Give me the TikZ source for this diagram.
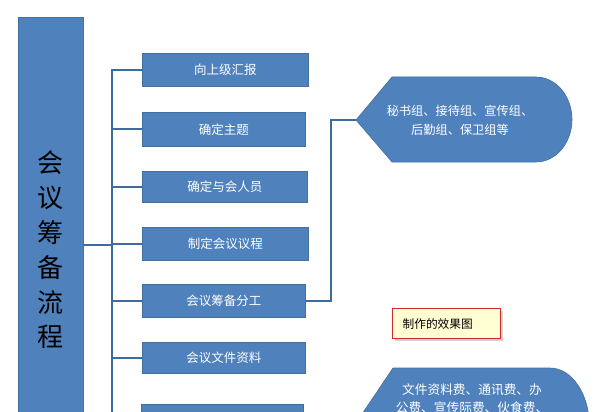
\documentclass[tikz,border=0pt]{standalone}
\usepackage{fontspec}
\setmainfont{Noto Sans CJK SC}
\usetikzlibrary{shadows}
\definecolor{boxblue}{HTML}{4F81BD}
\definecolor{boxline}{HTML}{41719C}
\definecolor{connblue}{HTML}{3F6A9E}
\definecolor{notered}{HTML}{D02A2A}
\definecolor{noteyellow}{HTML}{FFFDD2}
\begin{document}
\begin{tikzpicture}[x=1pt,y=-1pt,
  stepbox/.style={draw=boxline, line width=0.6pt, fill=boxblue, text=white,
    font=\fontsize{12.5}{15}\selectfont, anchor=north west, inner sep=0pt,
    minimum height=33pt},
  conn/.style={draw=connblue, line width=1.8pt},
  dispshape/.style={fill=boxblue, draw=boxline, line width=0.6pt},
  disptext/.style={text=white, align=center}]
\useasboundingbox (0,0) rectangle (603,412);
\clip (0,0) rectangle (603,412);
\fill[white] (0,0) rectangle (603,412);

% left bar
\node[fill=boxblue, draw=boxline, line width=0.6pt, anchor=north west, inner sep=0pt,
  minimum width=65pt, minimum height=420pt] (bar) at (18,17) {};
\node[align=center, font=\fontsize{26}{34.8}\selectfont, text=black] (bartext) at (50,250)
  {会\\议\\筹\\备\\流\\程};

% step boxes
\node[stepbox, minimum width=166pt] (b1) at (142,53) {向上级汇报};
\node[stepbox, minimum width=163pt, minimum height=34pt] (b2) at (142,112) {确定主题};
\node[stepbox, minimum width=165pt, minimum height=31pt] (b3) at (142,171) {确定与会人员};
\node[stepbox, minimum width=166pt] (b4) at (142,227) {制定会议议程};
\node[stepbox, minimum width=163pt] (b5) at (142,284) {会议筹备分工};
\node[stepbox, minimum width=163pt, minimum height=31pt] (b6) at (142,342) {会议文件资料};
\node[stepbox, minimum width=162pt] (b7) at (141,404) {};

% trunk connectors
\coordinate (trunk) at (112,245);
\coordinate (tbot) at (112,420);
\draw[conn] (bar.east |- trunk) -- (trunk);
\draw[conn] (b1.west) -- (b1.west -| trunk) -- (tbot);
\foreach \b in {b2,b3,b4,b5,b6,b7}
  \draw[conn] (\b.west -| trunk) -- (\b.west);

% display shape 1
\coordinate (s1tip) at (356,120);
\path[dispshape] (s1tip) -- (392,77) -- (536,77)
  arc[start angle=-90, end angle=90, x radius=36, y radius=42.5]
  -- (392,162) -- cycle;
\node[disptext, font=\fontsize{12.2}{19}\selectfont] (s1) at (460,120)
  {秘书组、接待组、宣传组、\\后勤组、保卫组等};

% connector box 5 -> shape 1
\draw[conn] (b5.east) -- ++(25,0) |- (s1tip);

% display shape 2
\coordinate (s2tip) at (354,426);
\path[dispshape] (s2tip) -- (393,368) -- (550,368)
  arc[start angle=-90, end angle=90, x radius=39.3, y radius=57.7]
  -- (393,483.4) -- cycle;
\node[disptext, font=\fontsize{12.7}{18}\selectfont] (s2) at (472,399)
  {文件资料费、通讯费、办\\公费、宣传际费、伙食费、};

% note
\node[draw=notered, line width=1.2pt, fill=noteyellow,
  drop shadow={shadow xshift=2pt, shadow yshift=-2pt, fill=black!35},
  anchor=north west, minimum height=30pt, text width=88pt, inner xsep=10pt,
  align=left, font=\fontsize{11.7}{14}\selectfont, text=black] (note) at (392,308)
  {制作的效果图};
\end{tikzpicture}
\end{document}
